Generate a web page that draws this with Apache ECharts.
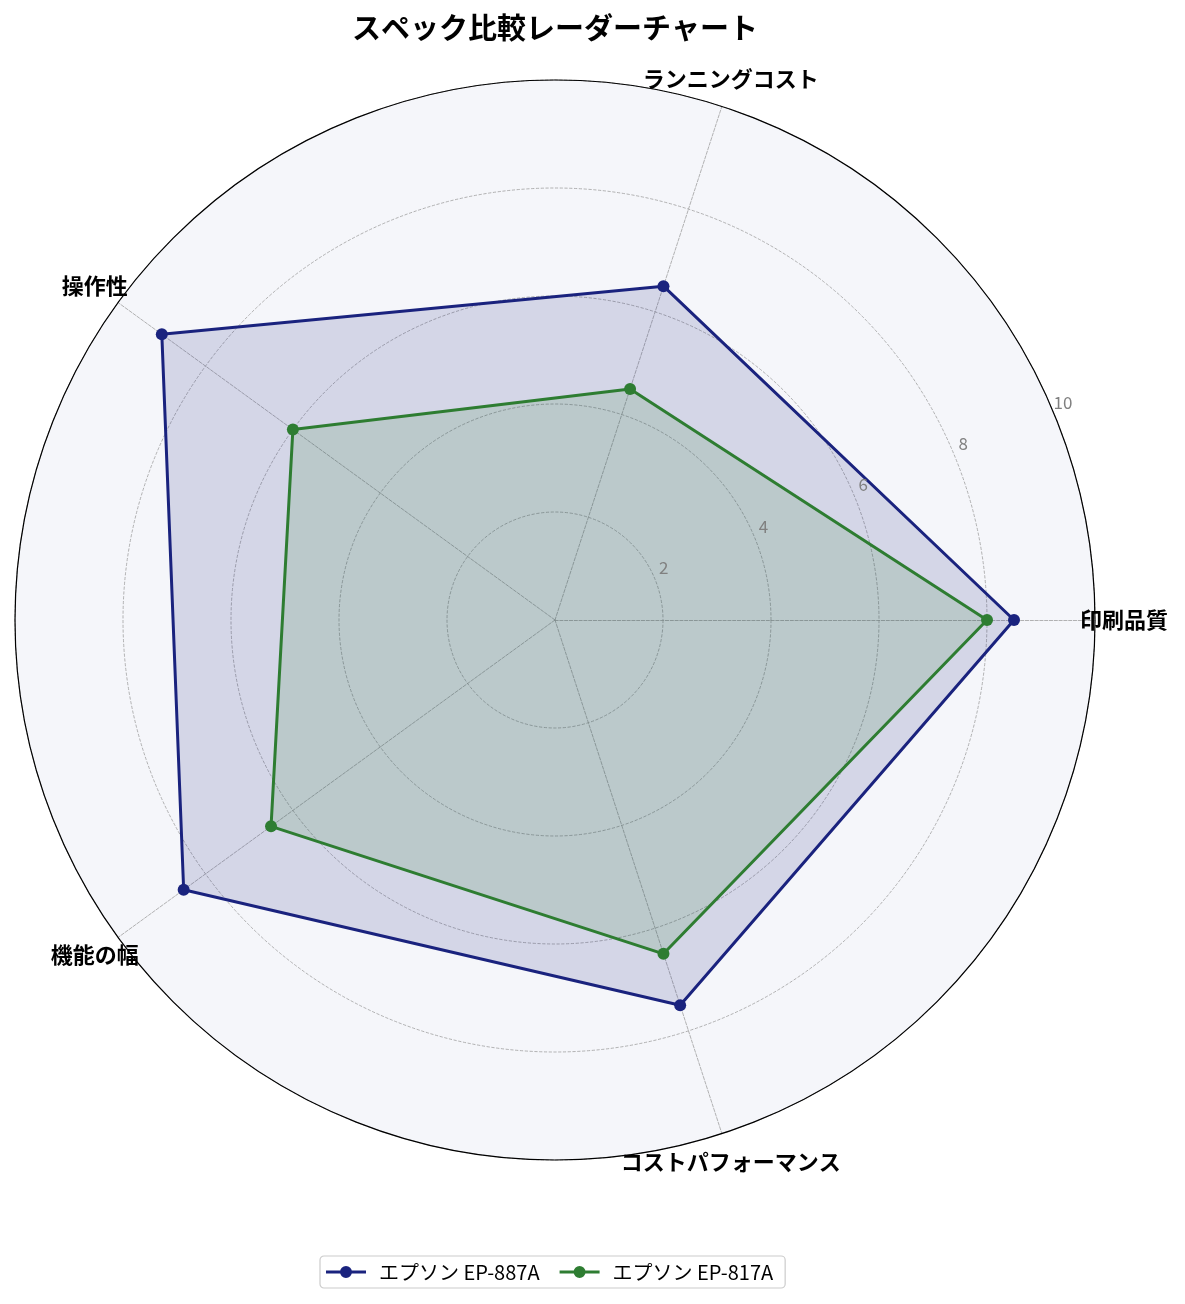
<!DOCTYPE html>
<html>
<head>
<meta charset="utf-8">
<script src="https://cdn.jsdelivr.net/npm/echarts@6/dist/echarts.min.js"></script>
<style>
html,body{margin:0;padding:0;background:#fff;}
#chart{width:1185px;height:1304px;}
</style>
</head>
<body>
<div id="chart"></div>
<script>
const categories = ['印刷品質', 'ランニングコスト', '操作性', '機能の幅', 'コストパフォーマンス'];
const seriesNames = ['エプソン EP-887A', 'エプソン EP-817A'];
const ep887a = [8.5, 6.5, 9.0, 8.5, 7.5];
const ep817a = [8.0, 4.5, 6.0, 6.5, 6.5];
const radialTicks = [2, 4, 6, 8, 10];
const colors = ['#1a237e', '#2e7d32'];

const FONT = '"Noto Sans CJK JP", "Noto Sans", sans-serif';
const CX = 555, CY = 620, R = 540;
const rMax = radialTicks[radialTicks.length - 1];
const labelR = rMax * 569 / 540;
const tickAngle = 22.5;

function catAngle(i) { return i * 360 / categories.length; }

const legendIcon = 'path://M0,4.5H40V7.5H0Z M26,6A6,6 0 1 1 14,6A6,6 0 1 1 26,6Z';

const chart = echarts.init(document.getElementById('chart'));
chart.setOption({
  backgroundColor: '#ffffff',
  animation: false,
  textStyle: { fontFamily: FONT },
  title: {
    text: 'スペック比較レーダーチャート',
    left: CX - 5,
    textAlign: 'center',
    top: 8,
    textStyle: { fontFamily: FONT, fontSize: 29, fontWeight: 'bold', color: '#000' }
  },
  legend: {
    bottom: 16,
    left: 320,
    data: seriesNames,
    icon: legendIcon,
    itemWidth: 40,
    itemHeight: 12,
    itemGap: 20,
    borderColor: '#cccccc',
    borderWidth: 1.2,
    borderRadius: 4,
    padding: [6, 12, 6, 6],
    textStyle: { fontFamily: FONT, fontSize: 20, color: '#000', padding: [0, 0, 0, 8] }
  },
  radar: {
    center: [CX, CY],
    radius: R,
    startAngle: 0,
    shape: 'circle',
    splitNumber: radialTicks.length,
    indicator: categories.map(n => ({ name: n, min: 0, max: rMax })),
    axisName: { show: false },
    splitLine: { lineStyle: { color: '#a0a0a0', type: 'dashed', width: 0.8 } },
    splitArea: { show: true, areaStyle: { color: ['#f5f6fa'] } },
    axisLine: { lineStyle: { color: '#a0a0a0', type: 'dashed', width: 0.8 } },
    axisTick: { show: false },
    axisLabel: { show: false }
  },
  polar: { center: [CX, CY], radius: R },
  angleAxis: {
    type: 'value', min: 0, max: 360, startAngle: 0, clockwise: false,
    z: 5,
    axisLine: { show: true, lineStyle: { color: '#000', width: 1.2 } },
    axisTick: { show: false }, axisLabel: { show: false }, splitLine: { show: false }
  },
  radiusAxis: {
    type: 'value', min: 0, max: rMax,
    axisLine: { show: false }, axisTick: { show: false }, splitLine: { show: false },
    axisLabel: { show: false }
  },
  series: [
    {
      type: 'radar',
      name: 'radar',
      z: 3,
      symbol: 'circle',
      symbolSize: 12,
      data: [
        { name: seriesNames[0], value: ep887a,
          itemStyle: { color: colors[0] },
          lineStyle: { color: colors[0], width: 3 },
          areaStyle: { color: colors[0], opacity: 0.15 } },
        { name: seriesNames[1], value: ep817a,
          itemStyle: { color: colors[1] },
          lineStyle: { color: colors[1], width: 3 },
          areaStyle: { color: colors[1], opacity: 0.15 } }
      ]
    },
    {
      type: 'scatter',
      name: 'categoryLabels',
      coordinateSystem: 'polar',
      symbolSize: 0,
      silent: true,
      clip: false,
      z: 6,
      itemStyle: { opacity: 1 },
      data: categories.map((c, i) => ({ name: c, value: [labelR, catAngle(i)] })),
      label: {
        show: true, position: 'inside', formatter: p => p.name,
        fontFamily: FONT, fontSize: 22, fontWeight: 'bold', color: '#000', opacity: 1
      }
    },
    {
      type: 'scatter',
      name: 'radialTickLabels',
      coordinateSystem: 'polar',
      symbolSize: 0,
      silent: true,
      clip: false,
      z: 6,
      itemStyle: { opacity: 1 },
      data: radialTicks.map(v => ({ name: String(v), value: [v, tickAngle] })),
      label: {
        show: true, position: 'inside', offset: [9, -11], formatter: p => p.name,
        fontFamily: FONT, fontSize: 17, color: '#808080', opacity: 1
      }
    }
  ]
});
</script>
</body>
</html>
